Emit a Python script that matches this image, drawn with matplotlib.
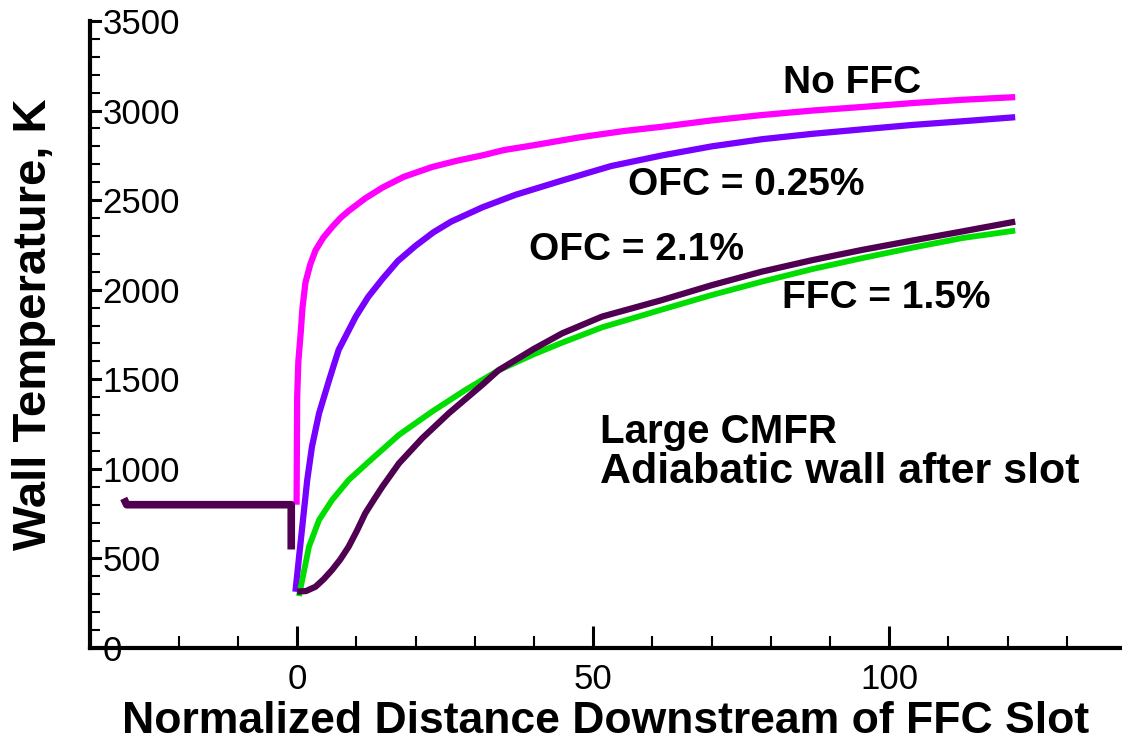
import matplotlib
matplotlib.use("Agg")
import matplotlib.pyplot as plt
from matplotlib.ticker import MultipleLocator

plt.rcParams['font.family'] = ['Liberation Sans', 'DejaVu Sans']

# wall upstream of the slot (shared by all cases)
upstream_x = [-29.3, -28.8, -1.0, -1.0]
upstream_y = [835, 800, 800, 550]

# No FFC
no_ffc_x = [-0.1, 0.0, 0.2, 0.6, 0.9, 1.4, 2.2, 3.1, 4.4, 5.9, 7.3, 8.7, 11.5,
            14.4, 18.0, 22.8, 27.0, 31.3, 35.0, 39.7, 47.6, 55.0, 61.7, 70.0,
            78.5, 87.0, 95.4, 104.0, 112.3, 121.3]
no_ffc_y = [800, 1400, 1600, 1760, 1900, 2040, 2140, 2220, 2290, 2350, 2400,
            2440, 2510, 2570, 2630, 2685, 2720, 2750, 2780, 2805, 2850, 2885,
            2910, 2945, 2975, 3000, 3020, 3042, 3060, 3075]

# OFC = 0.25%
ofc_low_x = [-0.3, 0.8, 1.7, 2.5, 3.7, 5.4, 7.0, 9.9, 12.0, 14.4, 17.0, 20.0,
             23.0, 26.0, 31.3, 36.9, 44.8, 53.0, 61.7, 70.0, 78.5, 87.0, 95.4,
             104.0, 112.3, 121.3]
ofc_low_y = [314, 659, 938, 1124, 1310, 1496, 1664, 1850, 1960, 2060, 2160,
             2245, 2320, 2380, 2460, 2530, 2610, 2690, 2750, 2800, 2840, 2870,
             2895, 2920, 2940, 2963]

# FFC = 1.5%
ffc_x = [0.3, 2.0, 3.7, 5.9, 8.7, 12.1, 17.2, 22.8, 28.4, 34.0, 40.0, 44.8,
         51.5, 61.7, 70.0, 78.5, 87.0, 95.4, 104.0, 112.3, 121.3]
ffc_y = [290, 566, 715, 826, 938, 1040, 1190, 1320, 1440, 1550, 1640, 1705,
         1790, 1890, 1970, 2045, 2115, 2176, 2235, 2288, 2330]

# OFC = 2.1%
ofc_high_x = [0.0, 1.5, 3.1, 4.5, 5.9, 7.3, 8.7, 10.1, 11.5, 13.0, 14.4, 17.2,
              21.1, 25.6, 31.3, 34.0, 40.0, 44.8, 51.5, 61.7, 70.0, 78.5, 87.0,
              95.4, 104.0, 112.3, 121.3]
ofc_high_y = [315, 318, 342, 385, 436, 495, 566, 655, 752, 830, 901, 1031,
              1170, 1310, 1470, 1550, 1670, 1757, 1850, 1943, 2025, 2101, 2165,
              2222, 2275, 2325, 2380]

fig = plt.figure(figsize=(11.22, 7.47), dpi=100)
ax = fig.add_axes([0.0802, 0.1325, 0.918, 0.8394])

ax.plot(no_ffc_x, no_ffc_y, color='#ff00ff', lw=4.5, solid_capstyle='butt')
ax.plot(ofc_low_x, ofc_low_y, color='#7700ff', lw=4.5, solid_capstyle='butt')
ax.plot(ffc_x, ffc_y, color='#00dd00', lw=4.2, solid_capstyle='butt')
ax.plot(ofc_high_x, ofc_high_y, color='#500050', lw=4.5, solid_capstyle='butt')
ax.plot(upstream_x, upstream_y, color='#500050', lw=5.5, solid_capstyle='butt')

ax.set_xlim(-35, 139)
ax.set_ylim(0, 3500)

for side in ['top', 'right']:
    ax.spines[side].set_visible(False)
for side in ['left', 'bottom']:
    ax.spines[side].set_linewidth(3)

ax.xaxis.set_major_locator(MultipleLocator(50))
ax.xaxis.set_minor_locator(MultipleLocator(10))
ax.yaxis.set_major_locator(MultipleLocator(500))
ax.yaxis.set_minor_locator(MultipleLocator(100))

ax.tick_params(axis='x', which='major', direction='in', length=16, width=2.2,
               pad=11, labelsize=25)
ax.tick_params(axis='x', which='minor', direction='in', length=9, width=1.5)
ax.tick_params(axis='y', which='major', direction='in', length=9, width=2.2,
               pad=-9, labelsize=25)
ax.tick_params(axis='y', which='minor', direction='in', length=7.5, width=1.5)
for lbl in ax.get_yticklabels():
    lbl.set_horizontalalignment('left')
    lbl.set_bbox(dict(facecolor='white', edgecolor='none', pad=0))

ax.set_xlabel('Normalized Distance Downstream of FFC Slot', fontsize=32,
              fontweight='bold')
ax.set_ylabel('Wall Temperature, K', fontsize=34, fontweight='bold')
ax.xaxis.set_label_coords(0.501, -0.084)
ax.yaxis.set_label_coords(-0.033, 0.517)

note = dict(fontsize=28, fontweight='bold', va='center')
ax.text(93.8, 3155, 'No FFC', ha='center', **note)
ax.text(75.8, 2585, 'OFC = 0.25%', ha='center', **note)
ax.text(57.3, 2222, 'OFC = 2.1%', ha='center', **note)
ax.text(99.5, 1954, 'FFC = 1.5%', ha='center', **note)
ax.text(51.2, 1206, 'Large CMFR', ha='left', fontsize=29, fontweight='bold',
        va='center')
ax.text(51.2, 983, 'Adiabatic wall after slot', ha='left', fontsize=31,
        fontweight='bold', va='center')

fig.savefig('out.png', dpi=100)
